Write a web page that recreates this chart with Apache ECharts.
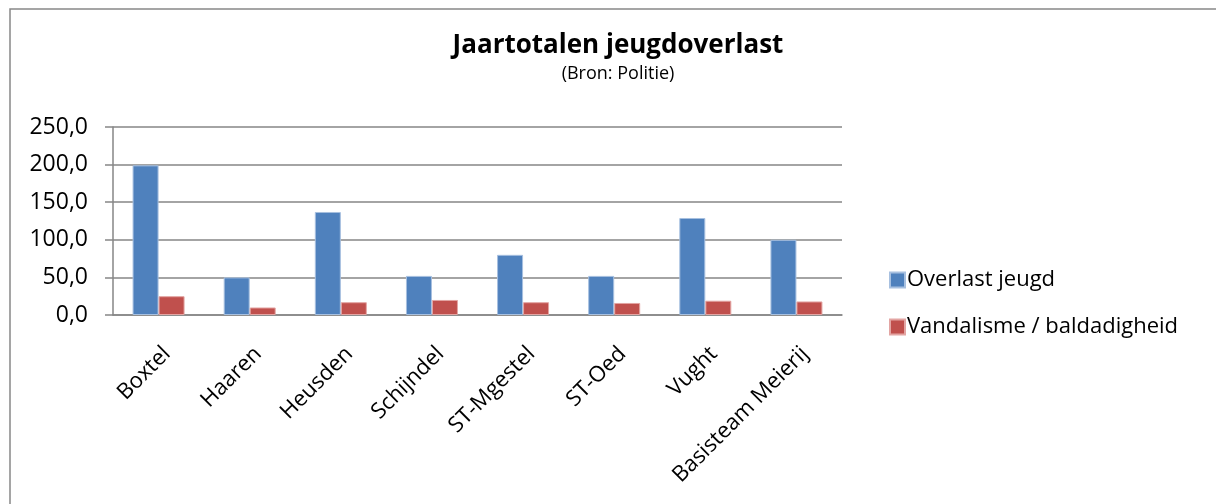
<!DOCTYPE html>
<html>
<head>
<meta charset="utf-8">
<script src="https://cdn.jsdelivr.net/npm/echarts@6/dist/echarts.min.js"></script>
<style>
  html, body { margin: 0; padding: 0; background: #fff; }
  #barEchart { width: 1216px; height: 504px; }
</style>
</head>
<body>
<div id="barEchart"></div>
<script>
// gemeenten
var categories = ["Boxtel", "Haaren", "Heusden", "Schijndel", "ST-Mgestel", "ST-Oed", "Vught", "Basisteam Meierij"];
var overlastJeugd = [199, 50, 137, 52, 80, 52, 129, 100];
var vandalisme = [25, 10, 17, 20, 17, 16, 19, 18];
var yTicks = [0, 50, 100, 150, 200, 250];

var font = "'Open Sans', 'Noto Sans', sans-serif";
var myChart = echarts.init(document.getElementById("barEchart"));

myChart.setOption({
  animation: false,
  textStyle: { fontFamily: font },
  title: {
    text: "Jaartotalen jeugdoverlast",
    subtext: "(Bron: Politie)",
    left: 613,
    textAlign: "center",
    top: 28,
    itemGap: 6,
    textStyle: { fontSize: 26, fontWeight: "bold", color: "#000", fontFamily: font },
    subtextStyle: { fontSize: 18, color: "#000", fontFamily: font }
  },
  graphic: [{
    type: "rect",
    shape: { x: 10, y: 9, width: 1230, height: 520 },
    style: { fill: "none", stroke: "#888", lineWidth: 1.5 },
    silent: true
  }],
  legend: {
    orient: "vertical",
    left: 884,
    top: 264,
    itemWidth: 15,
    itemHeight: 15,
    itemGap: 25,
    icon: "rect",
    textStyle: { fontSize: 22, color: "#000", fontFamily: font, padding: [0, 0, 0, -3] },
    data: ["Overlast jeugd", "Vandalisme / baldadigheid"]
  },
  grid: {
    left: 113,
    top: 127,
    width: 729,
    height: 188,
    containLabel: false
  },
  color: ["#4F81BD", "#C0504D"],
  xAxis: {
    type: "category",
    data: categories,
    axisLine: { lineStyle: { color: "#868686", width: 1.5 } },
    axisTick: { show: false },
    axisLabel: {
      rotate: 45, fontSize: 22, color: "#000", margin: 44, fontFamily: font,
      padding: [0, -12, 0, 0]
    }
  },
  yAxis: {
    type: "value",
    min: yTicks[0],
    max: yTicks[yTicks.length - 1],
    interval: 50,
    axisLine: { show: true, lineStyle: { color: "#868686", width: 1.5 } },
    axisTick: { show: true, length: 8, lineStyle: { color: "#868686", width: 1.5 } },
    splitLine: { lineStyle: { color: "#868686", width: 1.5 } },
    axisLabel: {
      fontSize: 23, color: "#000", margin: 25, fontFamily: font,
      formatter: function (v) { return v.toFixed(1).replace(".", ","); }
    }
  },
  series: [
    {
      name: "Overlast jeugd",
      type: "bar",
      barWidth: 26,
      barGap: "0%",
      itemStyle: { borderColor: "#A7C0E0", borderWidth: 1 },
      data: overlastJeugd
    },
    {
      name: "Vandalisme / baldadigheid",
      type: "bar",
      barWidth: 26,
      itemStyle: { borderColor: "#E3A5A3", borderWidth: 1 },
      data: vandalisme
    }
  ]
});
</script>
</body>
</html>
